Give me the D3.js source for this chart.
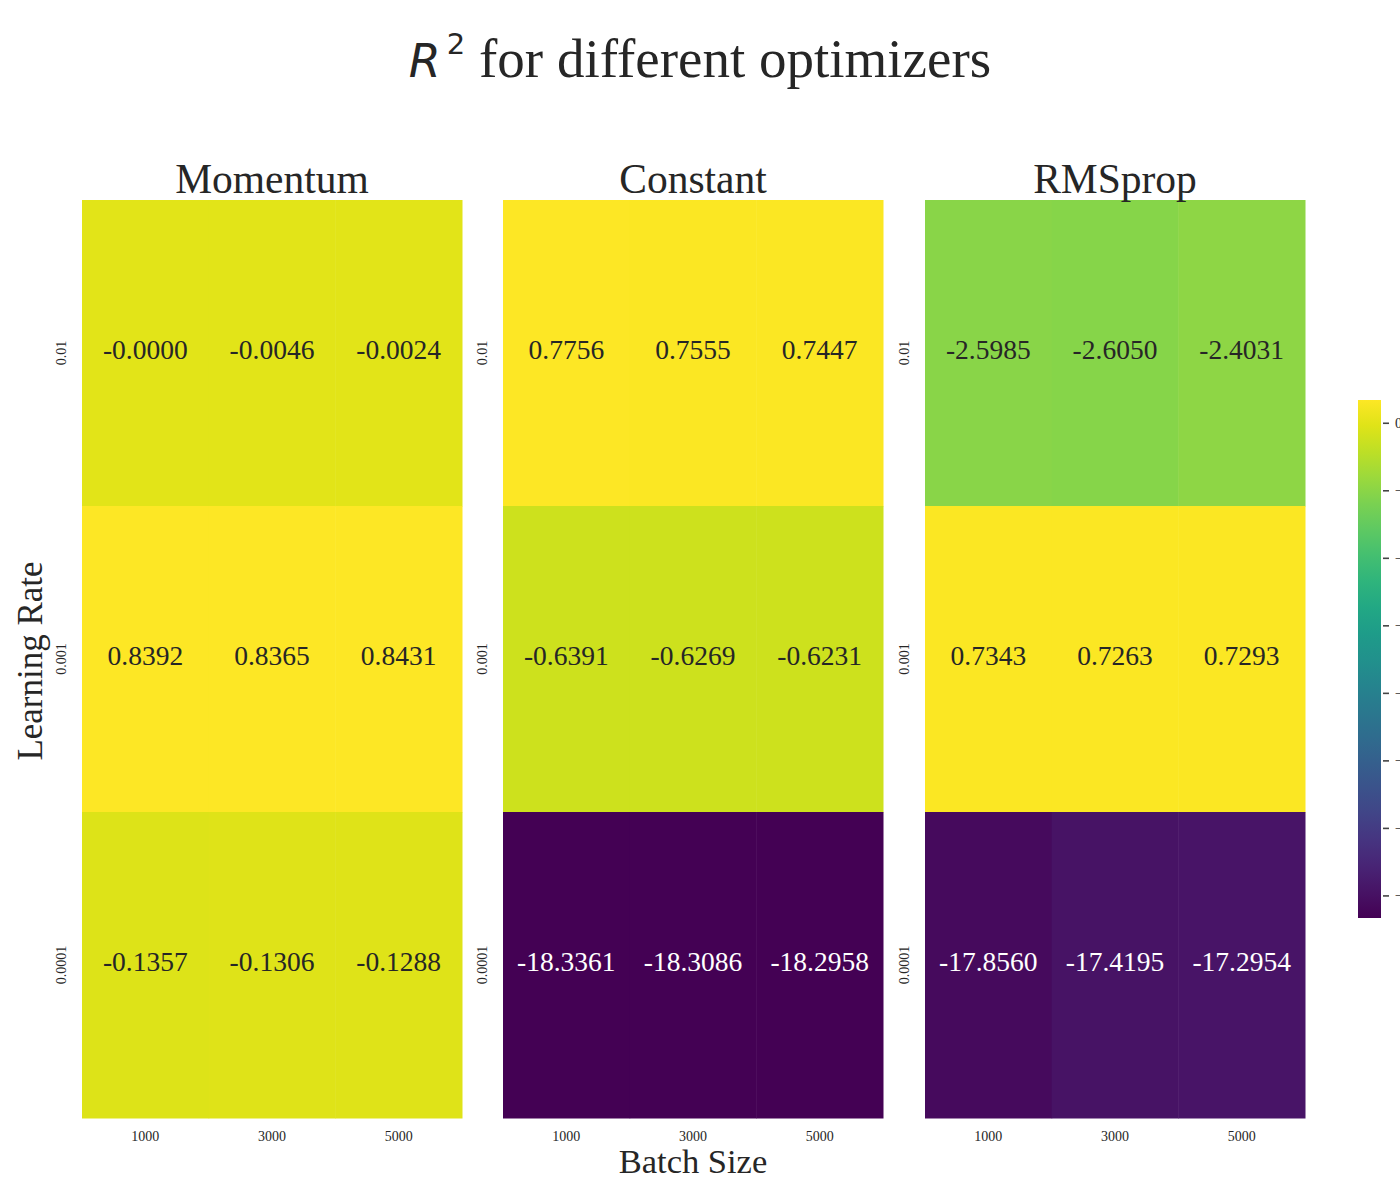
<!DOCTYPE html>
<html><head><meta charset="utf-8">
<script src="https://cdn.jsdelivr.net/npm/d3@7"></script>
<style>body{margin:0;background:#fff;} svg{display:block;}</style>
</head><body>
<script>
const optimizers = ["Momentum", "Constant", "RMSprop"];
const learningRates = ["0.01", "0.001", "0.0001"];
const batchSizes = ["1000", "3000", "5000"];
// values[row = learning rate][col = batch size]
const momentumValues = [[-0.0000, -0.0046, -0.0024], [0.8392, 0.8365, 0.8431], [-0.1357, -0.1306, -0.1288]];
const constantValues = [[0.7756, 0.7555, 0.7447], [-0.6391, -0.6269, -0.6231], [-18.3361, -18.3086, -18.2958]];
const rmspropValues = [[-2.5985, -2.6050, -2.4031], [0.7343, 0.7263, 0.7293], [-17.8560, -17.4195, -17.2954]];
const colorbarTicks = [0, -2.5, -5, -7.5, -10, -12.5, -15, -17.5];
const valueSets = [momentumValues, constantValues, rmspropValues];

const W = 1400, H = 1200;
const svg = d3.select("body").append("svg").attr("width", W).attr("height", H);
const serif = "'Liberation Serif','Times New Roman',serif";
const txt = "#262626";

const all = valueSets.flat(2);
const vmin = d3.min(all), vmax = d3.max(all);
const color = d3.scaleSequential(d3.interpolateViridis).domain([vmin, vmax]);
const fmt = v => (v < 0 || Object.is(v, -0)) ? "-" + Math.abs(v).toFixed(4) : v.toFixed(4);

// title
const title = svg.append("text").attr("x", 700).attr("y", 77).attr("text-anchor", "middle")
  .attr("fill", txt).style("font-family", serif).style("font-size", "55px");
title.append("tspan").text("R").style("font-family", "'DejaVu Sans',sans-serif").style("font-style", "italic").style("font-size", "46px");
title.append("tspan").text("2").attr("dy", -23).attr("dx", 6).style("font-family", "'DejaVu Sans',sans-serif").style("font-size", "29px");
title.append("tspan").text(" for different optimizers").attr("dy", 23);

const panelX = [82, 503, 925];
const panelW = 380, plotTop = 200, plotBottom = 1118;

valueSets.forEach((vals, p) => {
  const g = svg.append("g");
  const x = d3.scaleBand().domain(batchSizes).range([panelX[p], panelX[p] + panelW]);
  const y = d3.scaleBand().domain(learningRates).range([plotTop, plotBottom]);
  const cells = [];
  vals.forEach((row, i) => row.forEach((v, j) => cells.push({lr: learningRates[i], bs: batchSizes[j], v})));
  g.selectAll("rect").data(cells).join("rect")
    .attr("x", d => x(d.bs)).attr("y", d => y(d.lr))
    .attr("width", x.bandwidth() + 0.5).attr("height", y.bandwidth() + 0.5)
    .attr("fill", d => color(d.v));
  g.selectAll("text.ann").data(cells).join("text").attr("class", "ann")
    .attr("x", d => x(d.bs) + x.bandwidth() / 2).attr("y", d => y(d.lr) + y.bandwidth() / 2)
    .attr("dy", "0.22em").attr("text-anchor", "middle")
    .attr("fill", d => (d.v < -9 ? "#ffffff" : txt))
    .style("font-family", serif).style("font-size", "27.5px")
    .text(d => fmt(d.v));
  // subplot title
  g.append("text").attr("x", panelX[p] + panelW / 2).attr("y", 193).attr("text-anchor", "middle")
    .attr("fill", txt).style("font-family", serif).style("font-size", "41.5px").text(optimizers[p]);
  // x ticks
  g.selectAll("text.xt").data(batchSizes).join("text").attr("class", "xt")
    .attr("x", d => x(d) + x.bandwidth() / 2).attr("y", 1141).attr("text-anchor", "middle")
    .attr("fill", txt).style("font-family", serif).style("font-size", "14px").text(d => d);
  // y ticks
  g.selectAll("text.yt").data(learningRates).join("text").attr("class", "yt")
    .attr("transform", d => `translate(${panelX[p] - 20},${y(d) + y.bandwidth() / 2}) rotate(-90)`)
    .attr("text-anchor", "middle").attr("dy", "0.32em")
    .attr("fill", txt).style("font-family", serif).style("font-size", "14px").text(d => d);
});

// axis labels
svg.append("text").attr("transform", "translate(31,661) rotate(-90)").attr("text-anchor", "middle").attr("dy", "0.32em")
  .attr("fill", txt).style("font-family", serif).style("font-size", "35px").text("Learning Rate");
svg.append("text").attr("x", 693).attr("y", 1173).attr("text-anchor", "middle")
  .attr("fill", txt).style("font-family", serif).style("font-size", "34.5px").text("Batch Size");

// colorbar
const cbX = 1358, cbW = 23, cbTop = 400, cbBot = 918;
const defs = svg.append("defs");
const grad = defs.append("linearGradient").attr("id", "cbg").attr("x1", 0).attr("x2", 0).attr("y1", 1).attr("y2", 0);
d3.range(0, 1.0001, 0.05).forEach(t => grad.append("stop").attr("offset", t).attr("stop-color", d3.interpolateViridis(t)));
svg.append("rect").attr("x", cbX).attr("y", cbTop).attr("width", cbW).attr("height", cbBot - cbTop).attr("fill", "url(#cbg)");
const cy = d3.scaleLinear().domain([vmin, vmax]).range([cbBot, cbTop]);
const cax = svg.append("g").attr("transform", `translate(${cbX + cbW},0)`)
  .call(d3.axisRight(cy).tickValues(colorbarTicks).tickSize(8).tickPadding(6).tickFormat(d => d === 0 ? "0" : "\u2212" + String(-d)));
cax.select(".domain").remove();
cax.selectAll("line").attr("stroke", "#444").attr("stroke-width", 1.6).attr("x1", 2);
cax.selectAll("text").attr("fill", txt).style("font-family", serif).style("font-size", "14px");
</script>
</body></html>
